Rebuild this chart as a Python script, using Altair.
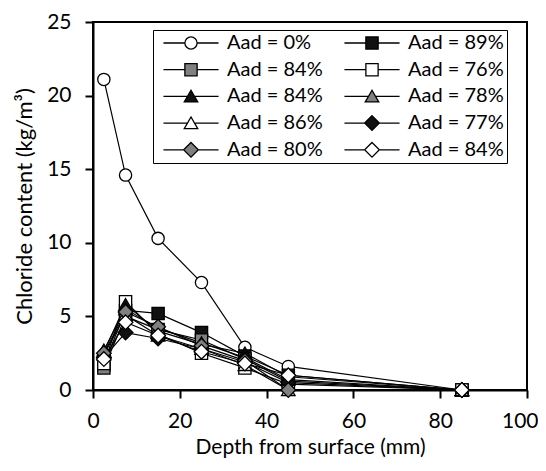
import altair as alt
import pandas as pd

depth = [2.5, 7.5, 15, 25, 35, 45, 85]
labels = ["Aad = 0%", "Aad = 89%", "Aad = 84%", "Aad = 76%", "Aad = 84%",
          "Aad = 78%", "Aad = 86%", "Aad = 77%", "Aad = 80%", "Aad = 84%"]
chloride = [
    [21.1, 14.6, 10.3, 7.3, 2.9, 1.6, 0.0],   # 0%  open circle
    [1.7, 5.4, 5.2, 3.9, 2.3, 1.0, 0.0],      # 89% black square
    [1.5, 5.0, 4.1, 3.4, 2.1, 0.6, 0.0],      # 84% gray square
    [1.8, 6.0, 3.8, 2.5, 1.5, 0.4, 0.0],      # 76% open square
    [2.6, 5.8, 4.0, 3.1, 2.5, 0.9, 0.0],      # 84% black triangle
    [2.7, 5.5, 4.2, 3.2, 2.2, 0.7, 0.0],      # 78% gray triangle
    [2.4, 5.1, 3.7, 2.8, 1.7, 0.0, 0.0],      # 86% open triangle
    [2.2, 3.9, 3.5, 2.8, 1.9, 0.5, 0.0],      # 77% black diamond
    [2.5, 5.3, 4.3, 3.0, 2.0, 0.0, 0.0],      # 80% gray diamond
    [2.1, 4.6, 3.7, 2.6, 1.8, 1.0, 0.0],      # 84% open diamond
]
fills = ["white", "#111111", "#808080", "white", "#111111",
         "#808080", "white", "#111111", "#808080", "white"]
shapes = ["circle", "square", "square", "square", "triangle",
          "triangle", "triangle", "diamond", "diamond", "diamond"]

marker_path = {
    "circle": "M1,0A1,1,0,1,1,-1,0A1,1,0,1,1,1,0Z",
    "square": "M-1,-1H1V1H-1Z",
    "triangle": "M0,-1L1.1,0.9L-1.1,0.9Z",
    "diamond": "M0,-1.2L1.2,0L0,1.2L-1.2,0Z",
}
inner = {"circle": 1.0, "square": 1.0, "triangle": 0.6, "diamond": 1.2}
L = 4.5

ids = [str(i) for i in range(len(labels))]
rows = []
for i, series in enumerate(chloride):
    for d, v in zip(depth, series):
        rows.append({"sid": ids[i], "depth": d, "cl": v})
df = pd.DataFrame(rows)

shape_range = [marker_path[s] for s in shapes]
legend_paths = [f"M-{L},0H-{inner[s]}M{inner[s]},0H{L}" + marker_path[s] for s in shapes]
label_expr = "[" + ",".join(f"'{t}'" for t in labels) + "][toNumber(datum.value)]"

FONT = "Lato"
legend = alt.Legend(
    title=None, orient="none", legendX=60, legendY=8, columns=2,
    direction="horizontal",
    labelExpr=label_expr, labelFont=FONT, labelFontSize=20, labelColor="black",
    symbolSize=150, symbolOpacity=1, symbolStrokeColor="black", symbolStrokeWidth=1.3,
    symbolOffset=25, labelOffset=26, columnPadding=14, rowPadding=6.7,
    padding=3, strokeColor="black", fillColor="white",
)

x_enc = alt.X("depth:Q", scale=alt.Scale(domain=[0, 100], nice=False),
              axis=alt.Axis(values=[0, 20, 40, 60, 80, 100], title="Depth from surface (mm)",
                            titleY=57, titleBaseline="middle", labelPadding=12,
                            labelFlush=False,
                            labelAlign={"condition": {"test": "datum.value == 100", "value": "right"},
                                        "value": "center"},
                            labelOffset={"condition": {"test": "datum.value == 100", "value": 11},
                                         "value": 0}))
y_enc = alt.Y("cl:Q", scale=alt.Scale(domain=[0, 25], nice=False),
              axis=alt.Axis(values=[0, 5, 10, 15, 20, 25], title="Chloride content (kg/m³)",
                            titleX=-69, titleBaseline="middle", labelPadding=14,
                            labelFlush=False, titleFontSize=22))

lines = alt.Chart(df).mark_line(color="black", strokeWidth=1.2).encode(
    x=x_enc, y=y_enc, detail="sid:N")

points = alt.Chart(df).mark_point(filled=True, stroke="black", strokeWidth=1.3,
                                  opacity=1, size=150).encode(
    x=x_enc, y=y_enc,
    shape=alt.Shape("sid:N", scale=alt.Scale(domain=ids, range=shape_range), legend=None),
    fill=alt.Fill("sid:N", scale=alt.Scale(domain=ids, range=fills), legend=None),
)

legend_layer = alt.Chart(df).transform_filter(alt.datum.depth < 0).mark_point(
    filled=True, strokeWidth=1.3, opacity=1, size=150).encode(
    x=x_enc, y=y_enc,
    shape=alt.Shape("sid:N", scale=alt.Scale(domain=ids, range=legend_paths), legend=legend),
    fill=alt.Fill("sid:N", scale=alt.Scale(domain=ids, range=fills), legend=legend),
    stroke=alt.Stroke("sid:N", scale=alt.Scale(domain=ids, range=["black"] * len(ids)),
                      legend=legend),
)

chart = alt.layer(lines, points, legend_layer).resolve_scale(
    shape="independent", fill="independent", stroke="independent"
).properties(
    width=434, height=368,
    autosize=alt.AutoSizeParams(type="none"),
    padding={"left": 85, "top": 14, "right": 11, "bottom": 73},
).configure_view(stroke="black", strokeWidth=2).configure_axis(
    grid=False, domainColor="black", domainWidth=2, tickColor="black", tickWidth=2,
    tickSize=8, labelFont=FONT, labelFontSize=21, labelColor="black",
    titleFont=FONT, titleFontSize=21, titleFontWeight="normal", titleColor="black",
)

chart.save("out.html", embed_options={"renderer": "svg", "actions": False})
